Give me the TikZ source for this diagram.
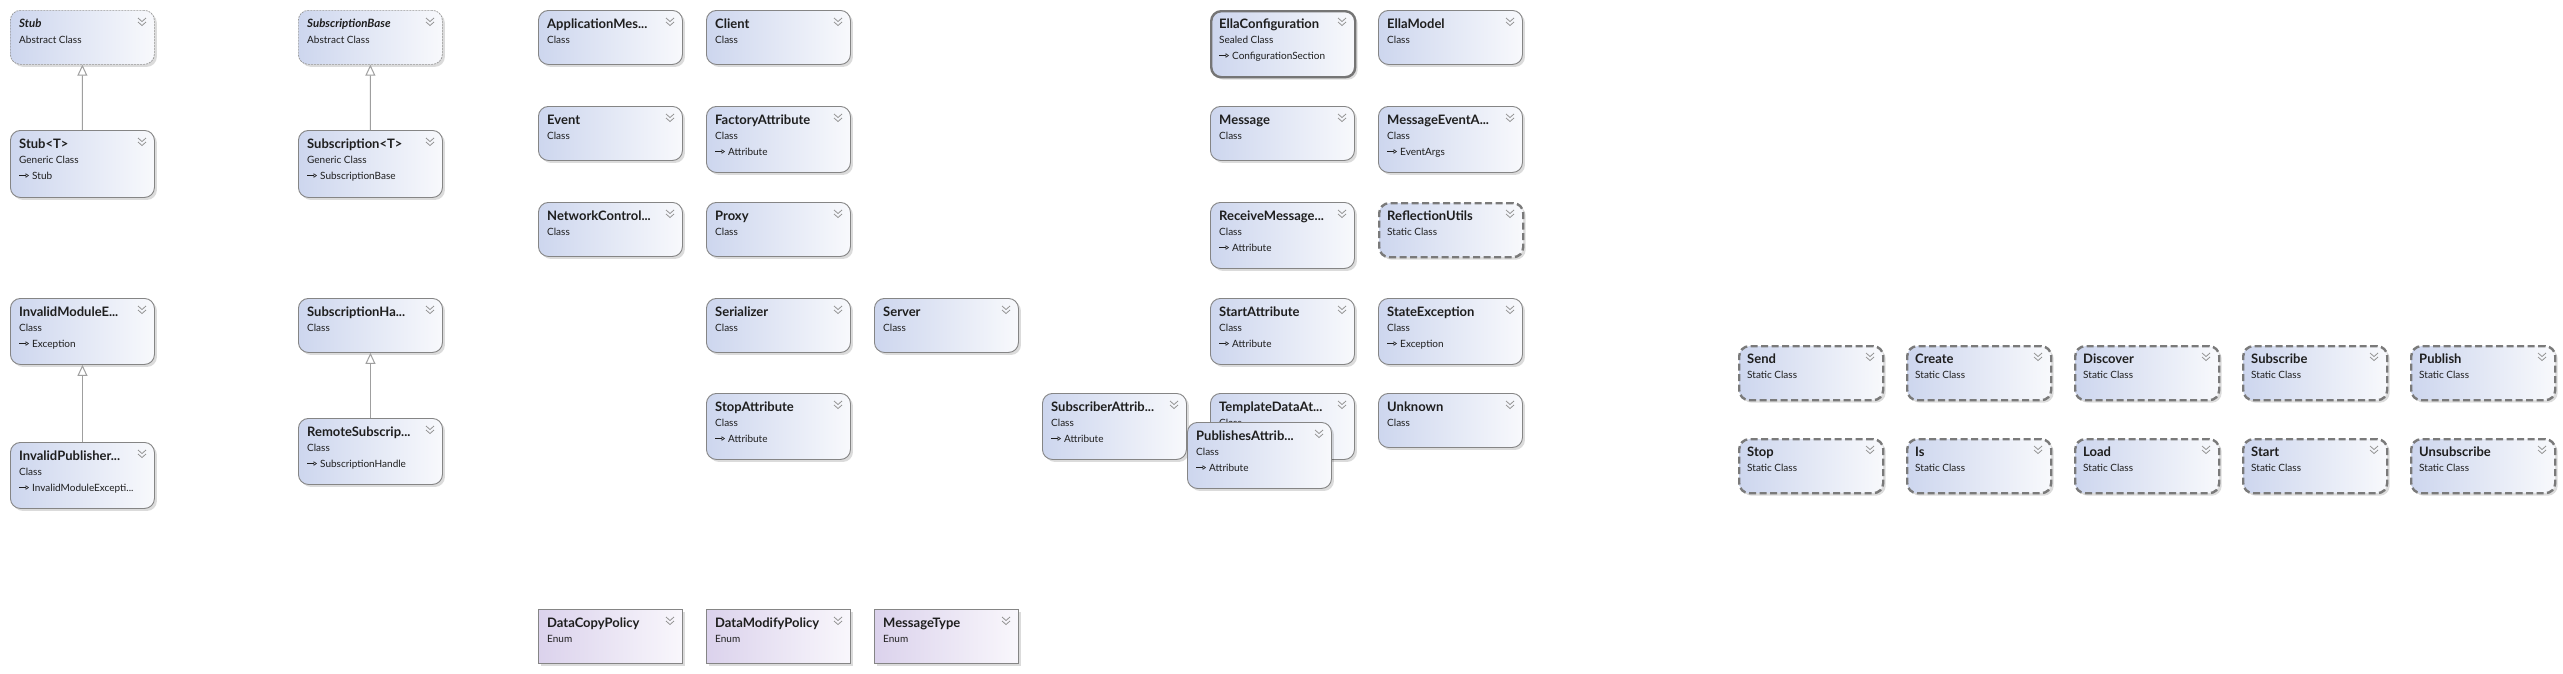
\documentclass[tikz,border=0pt]{standalone}
\usepackage{fontspec}
\setmainfont{Lato}
\usetikzlibrary{arrows.meta,shadows}
\definecolor{bord}{HTML}{858585}
\definecolor{clsA}{HTML}{CDD6EE}
\definecolor{clsB}{HTML}{F8F9FC}
\definecolor{enA}{HTML}{DBD2EC}
\definecolor{enB}{HTML}{F9F7FC}
\definecolor{txt}{HTML}{1E1E1E}
\tikzset{
 box/.style={anchor=north west, minimum width=144pt, inner sep=0pt, rounded corners=10pt,
   draw=bord, line width=0.9pt, left color=clsA, right color=clsB,
   drop shadow={shadow xshift=2.5pt, shadow yshift=-2.5pt, fill=black, opacity=0.14}},
 clsbox/.style={box},
 absbox/.style={box, draw=bord!85, line width=0.7pt, dash pattern=on 2pt off 1pt},
 statbox/.style={box, line width=2.4pt, draw=bord!92!black, dash pattern=on 7pt off 3.5pt},
 sealbox/.style={box, line width=2.4pt, draw=bord!88!black},
 enumbox/.style={box, rounded corners=0pt, left color=enA, right color=enB},
 ttl/.style={anchor=base west, inner sep=0pt, font=\fontsize{13}{15}\selectfont\bfseries, text=txt},
 ttlA/.style={anchor=base west, inner sep=0pt, font=\fontsize{11.5}{14}\selectfont\bfseries\itshape, text=txt},
 subtxt/.style={anchor=base west, inner sep=0pt, font=\fontsize{10}{12}\selectfont, text=txt},
 chev/.style={draw=gray!85, line width=0.8pt},
 inh/.style={draw=gray!75, line width=1pt, -{Triangle[open, length=11pt, width=10pt, fill=white]}},
 basearrow/.style={draw=txt, line width=0.6pt, -{Triangle[open, length=3.5pt, width=4.5pt]}},
}
\newcommand\chevron[1]{%
 \draw[chev] ([xshift=128pt,yshift=-8pt]#1.north west) -- ++(4pt,-3.5pt) -- ++(4pt,3.5pt);
 \draw[chev] ([xshift=128pt,yshift=-12pt]#1.north west) -- ++(4pt,-3.5pt) -- ++(4pt,3.5pt);}
% name, style, x, y, height, title, subtitle
\newcommand\ubox[7]{%
 \node[#2, minimum height=#5pt] (#1) at (#3,#4) {};
 \chevron{#1}
 \node[ttl] at ([xshift=9pt,yshift=-18pt]#1.north west) {#6};
 \node[subtxt] at ([xshift=9pt,yshift=-33pt]#1.north west) {#7};}
\newcommand\abox[7]{%
 \node[#2, minimum height=#5pt] (#1) at (#3,#4) {};
 \chevron{#1}
 \node[ttlA] at ([xshift=9pt,yshift=-17pt]#1.north west) {#6};
 \node[subtxt] at ([xshift=9pt,yshift=-33pt]#1.north west) {#7};}
\newcommand\ubase[2]{%
 \draw[basearrow] ([xshift=9pt,yshift=-45.5pt]#1.north west) -- ++(10pt,0pt);
 \node[subtxt] at ([xshift=22pt,yshift=-49pt]#1.north west) {#2};}
\begin{document}
\begin{tikzpicture}[x=1pt,y=-1pt]
\useasboundingbox[fill=white] (0,0) rectangle (2563,673);
% column 1-2
\abox{stub}{absbox}{10}{10}{54}{Stub}{Abstract Class}
\abox{subbase}{absbox}{298}{10}{54}{SubscriptionBase}{Abstract Class}
\ubox{stubT}{clsbox}{10}{130}{67}{Stub<T>}{Generic Class}\ubase{stubT}{Stub}
\ubox{subT}{clsbox}{298}{130}{67}{Subscription<T>}{Generic Class}\ubase{subT}{SubscriptionBase}
\ubox{invmod}{clsbox}{10}{298}{66}{InvalidModuleE...}{Class}\ubase{invmod}{Exception}
\ubox{subhandle}{clsbox}{298}{298}{54}{SubscriptionHa...}{Class}
\ubox{invpub}{clsbox}{10}{442}{66}{InvalidPublisher...}{Class}\ubase{invpub}{InvalidModuleExcepti...}
\ubox{remsub}{clsbox}{298}{418}{66}{RemoteSubscrip...}{Class}\ubase{remsub}{SubscriptionHandle}
% middle columns
\ubox{appmes}{clsbox}{538}{10}{54}{ApplicationMes...}{Class}
\ubox{client}{clsbox}{706}{10}{54}{Client}{Class}
\ubox{event}{clsbox}{538}{106}{54}{Event}{Class}
\ubox{factory}{clsbox}{706}{106}{66}{FactoryAttribute}{Class}\ubase{factory}{Attribute}
\ubox{netctl}{clsbox}{538}{202}{54}{NetworkControl...}{Class}
\ubox{proxy}{clsbox}{706}{202}{54}{Proxy}{Class}
\ubox{serializer}{clsbox}{706}{298}{54}{Serializer}{Class}
\ubox{server}{clsbox}{874}{298}{54}{Server}{Class}
\ubox{stopattr}{clsbox}{706}{393}{66}{StopAttribute}{Class}\ubase{stopattr}{Attribute}
\ubox{subscrattr}{clsbox}{1042}{393}{66}{SubscriberAttrib...}{Class}\ubase{subscrattr}{Attribute}
% right columns
\ubox{ellacfg}{sealbox}{1210}{10}{66}{EllaConfiguration}{Sealed Class}\ubase{ellacfg}{ConfigurationSection}
\ubox{ellamodel}{clsbox}{1378}{10}{54}{EllaModel}{Class}
\ubox{message}{clsbox}{1210}{106}{54}{Message}{Class}
\ubox{msgevent}{clsbox}{1378}{106}{66}{MessageEventA...}{Class}\ubase{msgevent}{EventArgs}
\ubox{recvmsg}{clsbox}{1210}{202}{66}{ReceiveMessage...}{Class}\ubase{recvmsg}{Attribute}
\ubox{reflutils}{statbox}{1378}{202}{54}{ReflectionUtils}{Static Class}
\ubox{startattr}{clsbox}{1210}{298}{66}{StartAttribute}{Class}\ubase{startattr}{Attribute}
\ubox{stateexc}{clsbox}{1378}{298}{66}{StateException}{Class}\ubase{stateexc}{Exception}
\ubox{templ}{clsbox}{1210}{393}{66}{TemplateDataAt...}{Class}\ubase{templ}{Attribute}
\ubox{unknown}{clsbox}{1378}{393}{54}{Unknown}{Class}
\ubox{pubattr}{clsbox}{1187}{422}{66}{PublishesAttrib...}{Class}\ubase{pubattr}{Attribute}
% enums
\ubox{datacopy}{enumbox}{538}{609}{54}{DataCopyPolicy}{Enum}
\ubox{datamod}{enumbox}{706}{609}{54}{DataModifyPolicy}{Enum}
\ubox{msgtype}{enumbox}{874}{609}{54}{MessageType}{Enum}
% static classes
\ubox{send}{statbox}{1738}{345}{54}{Send}{Static Class}
\ubox{create}{statbox}{1906}{345}{54}{Create}{Static Class}
\ubox{discover}{statbox}{2074}{345}{54}{Discover}{Static Class}
\ubox{subscribe}{statbox}{2242}{345}{54}{Subscribe}{Static Class}
\ubox{publish}{statbox}{2410}{345}{54}{Publish}{Static Class}
\ubox{stop}{statbox}{1738}{438}{54}{Stop}{Static Class}
\ubox{is}{statbox}{1906}{438}{54}{Is}{Static Class}
\ubox{load}{statbox}{2074}{438}{54}{Load}{Static Class}
\ubox{start}{statbox}{2242}{438}{54}{Start}{Static Class}
\ubox{unsubscribe}{statbox}{2410}{438}{54}{Unsubscribe}{Static Class}
% inheritance
\draw[inh] (stubT.north) -- (stub.south);
\draw[inh] (subT.north) -- (subbase.south);
\draw[inh] (invpub.north) -- (invmod.south);
\draw[inh] (remsub.north) -- (subhandle.south);
\end{tikzpicture}
\end{document}
